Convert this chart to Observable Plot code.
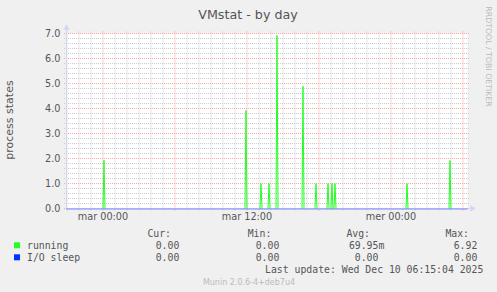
<!DOCTYPE html>
<html><head><meta charset="utf-8">
<script src="https://cdn.jsdelivr.net/npm/d3@7"></script>
<script src="https://cdn.jsdelivr.net/npm/@observablehq/plot@0.6"></script>
<style>
body{margin:0;background:#f0f0f0;}
#chart svg{display:block;}
</style>
</head><body><div id="chart"></div>
<script>
const title = "VMstat - by day";
const yLabel = "process states";
const domainStart = "2025-12-08T20:57:30Z";
const domainEnd = "2025-12-10T06:22:30Z";
const xTickTimes = ["2025-12-09T00:00:00Z", "2025-12-09T12:00:00Z", "2025-12-10T00:00:00Z"];
const xTickLabels = ["mar 00:00", "mar 12:00", "mer 00:00"];
const yTicks = [0, 1, 2, 3, 4, 5, 6, 7];
const runningPeakTimes = [
  "2025-12-09T00:05:00Z", "2025-12-09T11:55:00Z", "2025-12-09T13:10:00Z", "2025-12-09T13:50:00Z",
  "2025-12-09T14:30:00Z", "2025-12-09T16:40:00Z", "2025-12-09T17:45:00Z", "2025-12-09T18:45:00Z",
  "2025-12-09T19:05:00Z", "2025-12-09T19:20:00Z", "2025-12-10T01:20:00Z", "2025-12-10T04:55:00Z"
];
const runningPeakValues = [1.93, 3.92, 1.0, 1.0, 6.92, 4.89, 1.0, 1.0, 1.0, 1.0, 1.0, 1.92];
const ioSleepTimes = [domainStart, domainEnd];
const ioSleepValues = [0, 0];
const seriesNames = ["running", "I/O sleep"];
const seriesColors = ["#22ff22", "#0033ff"];
const legendHeaders = ["Cur:", "Min:", "Avg:", "Max:"];
const legendCur = ["0.00", "0.00"];
const legendMin = ["0.00", "0.00"];
const legendAvg = ["69.95m", "0.00 "];
const legendMax = ["6.92", "0.00"];
const lastUpdate = "Last update: Wed Dec 10 06:15:04 2025";
const watermark = "Munin 2.0.6-4+deb7u4";
const sideText = "RRDTOOL / TOBI OETIKER";

const STEP = 5 * 60 * 1000;
const t0 = new Date(domainStart), t1 = new Date(domainEnd);
const spikes = runningPeakTimes.flatMap((t, i) => {
  const tt = +new Date(t);
  return [
    {t: new Date(tt - STEP), v: 0, i},
    {t: new Date(tt), v: runningPeakValues[i], i},
    {t: new Date(tt + STEP), v: 0, i}
  ];
});
const ioSleep = ioSleepTimes.map((t, i) => ({t: new Date(t), v: ioSleepValues[i]}));

const majorHours = d3.utcHour.every(6).range(t0, t1);
const minorHours = d3.utcHour.range(t0, t1).filter(d => d.getUTCHours() % 6 !== 0);
const minorY = d3.range(0, 35).map(k => k / 5).filter(v => Math.abs(v - Math.round(v)) > 1e-6);
const gx1 = new Date(+t0 - 2 * STEP), gx2 = new Date(+t1 + 2 * STEP);
const tickDates = xTickTimes.map(d => new Date(d));

const chart = Plot.plot({
  width: 497, height: 292,
  marginLeft: 66, marginRight: 30, marginTop: 33, marginBottom: 84,
  style: {background: "#f0f0f0", fontFamily: "DejaVu Sans", fontSize: "9.7px", color: "#555", overflow: "visible"},
  x: {type: "utc", domain: [t0, t1]},
  y: {domain: [0, 7]},
  marks: [
    Plot.frame({fill: "white", stroke: null}),
    Plot.ruleX(minorHours, {y1: -0.1, y2: 7.08, stroke: "#cccccc", strokeDasharray: "1,1"}),
    Plot.ruleY(minorY, {x1: () => gx1, x2: () => gx2, stroke: "#cccccc", strokeDasharray: "1,1"}),
    Plot.ruleX(majorHours, {y1: -0.1, y2: 7.08, stroke: "#ff8080", strokeOpacity: 0.7, strokeDasharray: "1,1"}),
    Plot.ruleY(yTicks, {x1: () => gx1, x2: () => gx2, stroke: "#ff8080", strokeOpacity: 0.7, strokeDasharray: "1,1"}),
    Plot.ruleX([t0], {y1: 0, y2: 7.2, stroke: "#CFD6F8"}),
    Plot.ruleY([0], {x1: () => t0, x2: () => t1, stroke: "#CFD6F8"}),
    Plot.dot([t0], {x: d => d, y: () => 7, dy: -5.5, symbol: "triangle", r: 2.4, fill: "#CFD6F8", stroke: null}),
    Plot.dot([t1], {x: d => d, y: () => 0, dx: 4.5, symbol: "triangle", rotate: 90, r: 2.4, fill: "#CFD6F8", stroke: null}),
    Plot.line(spikes, {x: "t", y: "v", z: "i", stroke: seriesColors[0], strokeWidth: 1}),
    Plot.line(ioSleep, {x: "t", y: "v", stroke: "#7f88ff", strokeWidth: 1, dy: 0.5}),
    Plot.axisY({ticks: yTicks, tickFormat: d => d.toFixed(1), tickSize: 0, tickPadding: 6, label: null, fontSize: 9.7}),
    Plot.axisX({ticks: tickDates, tickFormat: d => xTickLabels[tickDates.findIndex(x => +x === +d)], tickSize: 0, tickPadding: 5, label: null, fontSize: 9.7})
  ]
});
document.getElementById("chart").appendChild(chart);

const svg = d3.select(chart);
const fg = "#555";
const txt = () => svg.append("text").attr("text-anchor", "start").attr("fill", fg);
txt().attr("x", 248).attr("y", 19).attr("text-anchor", "middle")
  .attr("font-family", "DejaVu Sans").attr("font-size", 12.7).text(title);
txt().attr("transform", "translate(12.5,120) rotate(-90)").attr("text-anchor", "middle")
  .attr("font-family", "DejaVu Sans").attr("font-size", 11).text(yLabel);
txt().attr("transform", "translate(486,56.5) rotate(90)").attr("text-anchor", "middle")
  .attr("font-family", "DejaVu Sans").attr("font-size", 7.8).attr("fill", "#bbb").text(sideText);

const mono = "DejaVu Sans Mono";
const lf = 9.8;
const headerX = [171, 271.3, 370, 469];
legendHeaders.forEach((h, i) => {
  txt().attr("x", headerX[i]).attr("y", 237.3).attr("text-anchor", "end")
    .attr("font-family", mono).attr("font-size", lf).text(h);
});
const rowY = [249.3, 261.3];
const sqY = [242.3, 254.3];
const colX = [179.3, 279.3, 384.3, 477.3];
const cols = [legendCur, legendMin, legendAvg, legendMax];
seriesNames.forEach((name, r) => {
  svg.append("rect").attr("x", 14).attr("y", sqY[r]).attr("width", 6).attr("height", 6).attr("fill", seriesColors[r]);
  txt().attr("x", 27).attr("y", rowY[r]).attr("font-family", mono).attr("font-size", lf).text(name);
  cols.forEach((col, c) => {
    txt().attr("x", colX[c]).attr("y", rowY[r]).attr("text-anchor", "end")
      .attr("font-family", mono).attr("font-size", lf)
      .attr("xml:space", "preserve").style("white-space", "pre").text(col[r]);
  });
});
txt().attr("x", 483.3).attr("y", 272.7).attr("text-anchor", "end")
  .attr("font-family", mono).attr("font-size", lf).text(lastUpdate);
txt().attr("x", 249).attr("y", 284.5).attr("text-anchor", "middle")
  .attr("font-family", "DejaVu Sans").attr("font-size", 8).attr("fill", "#bbb").text(watermark);
</script>
</body></html>
